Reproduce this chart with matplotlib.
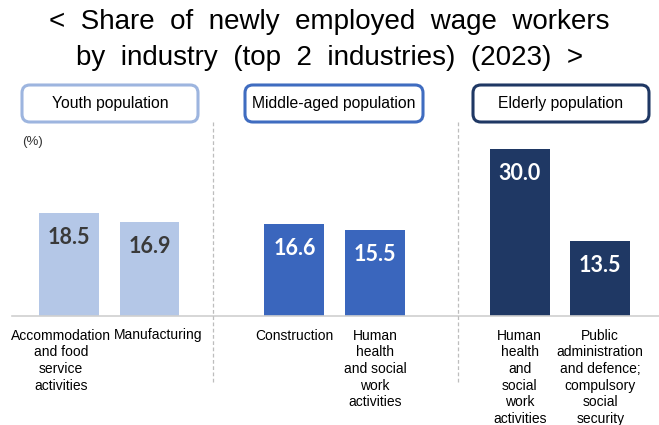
import matplotlib
matplotlib.use("Agg")
import matplotlib.pyplot as plt
from matplotlib.patches import FancyBboxPatch
from matplotlib.lines import Line2D
import matplotlib.transforms as mtransforms

# Data
groups = ["Youth population", "Middle-aged population", "Elderly population"]
industries = [
    "Accommodation\nand food\nservice\nactivities",
    "Manufacturing",
    "Construction",
    "Human\nhealth\nand social\nwork\nactivities",
    "Human\nhealth\nand\nsocial\nwork\nactivities",
    "Public\nadministration\nand defence;\ncompulsory\nsocial\nsecurity",
]
shares = [18.5, 16.9, 16.6, 15.5, 30.0, 13.5]
group_of_bar = [0, 0, 1, 1, 2, 2]
title_lines = ["<  Share  of  newly  employed  wage  workers",
               "by  industry  (top  2  industries)  (2023)  >"]

# Layout / style
positions = [0, 1, 2.8, 3.8, 5.6, 6.6]
label_shift_px = [-8, 9, 0, 0, 0, 0]
fill_colors = ["#b4c7e7", "#3a66bd", "#1f3864"]
border_colors = ["#9db5df", "#3f6cc0", "#1f3864"]
value_colors = ["#3a3a3a", "white", "white"]

W, H = 659, 425
fig = plt.figure(figsize=(W / 100, H / 100), dpi=100)

# axes placed so that the baseline sits at y=316px
ax_left, ax_right = 12, 659
ax_bottom, ax_top = 316, 130
ax = fig.add_axes([ax_left / W, 1 - ax_bottom / H,
                   (ax_right - ax_left) / W, (ax_bottom - ax_top) / H])
px_per_unit = 80.5
ax.set_xlim(-(69 - ax_left) / px_per_unit, (ax_right - 69) / px_per_unit)
ax.set_ylim(0, (ax_bottom - ax_top) / 5.57)

colors = [fill_colors[g] for g in group_of_bar]
bars = ax.bar(positions, shares, width=0.745, color=colors, zorder=2)

for b, v, g in zip(bars, shares, group_of_bar):
    ax.annotate(f"{v:.1f}", (b.get_x() + b.get_width() / 2, v),
                xytext=(0, -18), textcoords="offset points",
                ha="center", va="center", fontsize=15.5, fontweight="bold",
                family="Lato", color=value_colors[g], zorder=3)

for s in ["top", "right", "left"]:
    ax.spines[s].set_visible(False)
ax.spines["bottom"].set_color("#d0d0d0")
ax.spines["bottom"].set_linewidth(1.2)
ax.set_yticks([])
ax.set_xticks(positions, industries, family="Liberation Sans", fontsize=10,
              linespacing=1.25)
ax.tick_params(axis="x", length=0, pad=9)
for lab, dx in zip(ax.get_xticklabels(), label_shift_px):
    lab.set_transform(lab.get_transform() +
                      mtransforms.ScaledTranslation(dx / 100, 0, fig.dpi_scale_trans))

# dashed separators between groups
trans = mtransforms.blended_transform_factory(ax.transData, fig.transFigure)
for xs in [1.79, 4.83]:
    fig.add_artist(Line2D([xs, xs], [1 - 122 / H, 1 - 382 / H], transform=trans,
                          color="#bdbdbd", linestyle=(0, (3, 2)), linewidth=0.9))

# group header boxes
boxes = [(22, 198), (245, 423), (473, 649)]
for (x0, x1), name, ec in zip(boxes, groups, border_colors):
    y0, y1 = 85, 122
    patch = FancyBboxPatch((x0 / W, 1 - y1 / H), (x1 - x0) / W, (y1 - y0) / H,
                           boxstyle="round,pad=0,rounding_size=0.012",
                           transform=fig.transFigure, facecolor="white",
                           edgecolor=ec, linewidth=2.2, mutation_aspect=W / H)
    fig.add_artist(patch)
    fig.text((x0 + x1) / 2 / W, 1 - (y0 + y1) / 2 / H, name, ha="center",
             va="center", fontsize=11.3, family="Liberation Sans")

fig.text(22 / W, 1 - 142 / H, "(%)", ha="left", va="center", fontsize=9.5,
         family="Liberation Sans", color="#333333")

for line, yc in zip(title_lines, [22, 58]):
    fig.text(0.5, 1 - yc / H, line, ha="center", va="center", fontsize=20,
             family="Liberation Sans")

fig.savefig("out.png", dpi=100, facecolor="white")
